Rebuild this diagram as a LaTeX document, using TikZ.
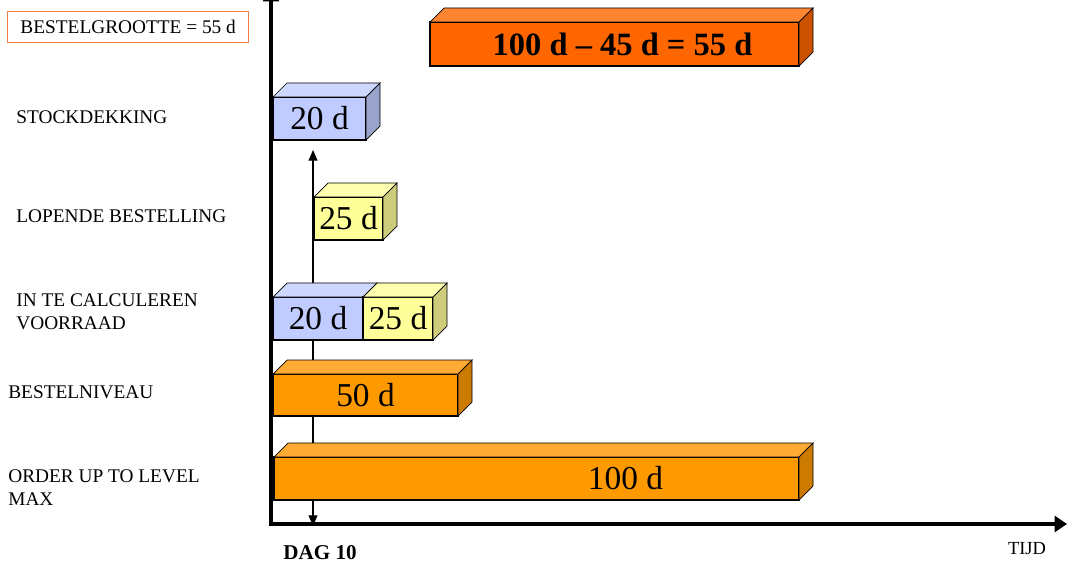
\documentclass[tikz,border=0pt]{standalone}
\usepackage{fontspec}
\setmainfont{Liberation Serif}
\usetikzlibrary{arrows.meta}
\usetikzlibrary{calc}

\definecolor{blueFront}{RGB}{192,204,255}
\definecolor{blueTop}{RGB}{206,216,255}
\definecolor{blueSide}{RGB}{153,163,204}
\definecolor{yellowFront}{RGB}{255,255,153}
\definecolor{yellowTop}{RGB}{255,255,175}
\definecolor{yellowSide}{RGB}{204,204,122}
\definecolor{orangeFront}{RGB}{255,153,0}
\definecolor{orangeTop}{RGB}{255,170,51}
\definecolor{orangeSide}{RGB}{204,122,0}
\definecolor{redFront}{RGB}{255,102,0}
\definecolor{redTop}{RGB}{255,133,51}
\definecolor{redSide}{RGB}{204,82,0}
\definecolor{frameOrange}{RGB}{237,125,70}

% top and right face of a block node
\newcommand{\blockfaces}[3]{%
  \path [draw,fill=#2] (#1.north west) -- ([shift={(14,-14)}]#1.north west)
    -- ([shift={(14,-14)}]#1.north east) -- (#1.north east) -- cycle;
  \path [draw,fill=#3] (#1.north east) -- ([shift={(14,-14)}]#1.north east)
    -- ([shift={(14,-14)}]#1.south east) -- (#1.south east) -- cycle;
}

\begin{document}
\begin{tikzpicture}[x=0.02cm,y=-0.02cm,
    block/.style={draw,line width=0.6pt,inner sep=0pt,outer sep=0pt,anchor=north west,
      font=\fontsize{19}{22}\selectfont},
    blocksize/.style 2 args={minimum width=#1*0.02cm,minimum height=#2*0.02cm},
    rowlabel/.style={anchor=west,align=left,inner sep=0pt,font=\fontsize{11}{13}\selectfont},
    axis/.style={line width=2.3pt,{Triangle[length=7pt,width=9pt]}-{Triangle[length=7pt,width=9pt]}}]

  \useasboundingbox (0,0) rectangle (1067,567);
  \clip (0,0) rectangle (1067,567);

  \coordinate (ytop) at (271,-11);
  \coordinate (origin) at (271,524);
  \coordinate (xend) at (1067,524);
  \coordinate (dag) at (313,526);
  \coordinate (dagtop) at (313,150);

  \path [draw,axis] (ytop) -- (origin) -- (xend);
  \path [draw,line width=0.6pt,{Triangle[length=6pt,width=5pt]}-{Triangle[length=6pt,width=5pt]}]
    (dag) -- (dagtop);

  % row labels
  \node [draw=frameOrange,line width=0.8pt,anchor=north west,inner sep=0pt,
    minimum width=4.82cm,minimum height=0.62cm,font=\fontsize{11}{13}\selectfont] (Lsize) at (7,11) {BESTELGROOTTE = 55 d};
  \node [rowlabel] (Lstock) at (16,117) {STOCKDEKKING};
  \node [rowlabel] (Lopen) at (16,216) {LOPENDE BESTELLING};
  \node [rowlabel] (Lcalc) at (16,311.5) {IN TE CALCULEREN\\VOORRAAD};
  \node [rowlabel] (Llevel) at (8,392) {BESTELNIVEAU};
  \node [rowlabel] (Lmax) at (8,487.5) {ORDER UP TO LEVEL\\MAX};

  % blocks
  \node [block,blocksize={369}{44},fill=redFront,
    label={[xshift=0.16cm,font=\bfseries\fontsize{18.5}{22}\selectfont]center:100 d \textendash{} 45 d = 55 d}] (Bsize) at (430,22) {};
  \blockfaces{Bsize}{redTop}{redSide}

  \node [block,blocksize={93}{43},fill=blueFront] (Bstock) at (273,97) {20 d};
  \blockfaces{Bstock}{blueTop}{blueSide}

  \node [block,blocksize={69}{43},fill=yellowFront] (Bopen) at (314,197) {25 d};
  \blockfaces{Bopen}{yellowTop}{yellowSide}

  \node [block,blocksize={90}{43},fill=blueFront] (Bcalc_1) at (273,297) {20 d};
  \blockfaces{Bcalc_1}{blueTop}{blueSide}
  \node [block,blocksize={70}{43},fill=yellowFront] (Bcalc_2) at (363,297) {25 d};
  \blockfaces{Bcalc_2}{yellowTop}{yellowSide}

  \node [block,blocksize={185}{42},fill=orangeFront] (Blevel) at (273,374) {50 d};
  \blockfaces{Blevel}{orangeTop}{orangeSide}

  \node [block,blocksize={525}{43},fill=orangeFront,
    label={[xshift=1.78cm,font=\fontsize{19}{22}\selectfont]center:100 d}] (Bmax) at (274,457) {};
  \blockfaces{Bmax}{orangeTop}{orangeSide}

  \node [font=\bfseries\fontsize{12}{14}\selectfont] (dagLab) at (320,553) {DAG 10};
  \node [font=\fontsize{10.5}{12}\selectfont] (tijdLab) at (1027,549) {TIJD};

\end{tikzpicture}
\end{document}
